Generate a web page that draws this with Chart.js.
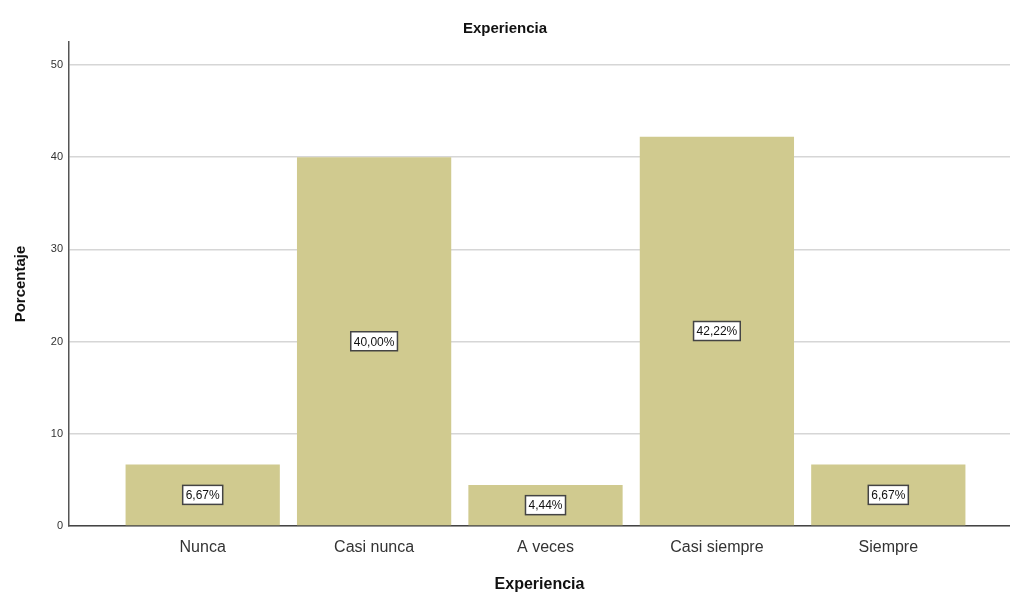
<!DOCTYPE html>
<html lang="es">
<head>
    <meta charset="UTF-8">
    <title>Experiencia</title>
    <script src="https://cdn.jsdelivr.net/npm/chart.js"></script>
    <style>
        body { margin: 0; background: #fff; }
    </style>
</head>
<body>
    <canvas id="myChart" width="1010" height="594"></canvas>

    <script>
        const categories = ['Nunca', 'Casi nunca', 'A veces', 'Casi siempre', 'Siempre'];
        const percentages = [6.67, 40.00, 4.44, 42.22, 6.67];
        const yTicks = [0, 10, 20, 30, 40, 50];

        // boxed value labels in the middle of each bar
        const boxLabels = {
            id: 'boxLabels',
            afterDatasetsDraw(chart) {
                const ctx = chart.ctx;
                const meta = chart.getDatasetMeta(0);
                ctx.save();
                ctx.font = '12px "Liberation Sans", Arial, sans-serif';
                ctx.textAlign = 'center';
                ctx.textBaseline = 'middle';
                meta.data.forEach((bar, i) => {
                    const txt = percentages[i].toFixed(2).replace('.', ',') + '%';
                    const cy = (bar.y + bar.base) / 2;
                    const w = ctx.measureText(txt).width + 6;
                    const h = 19;
                    ctx.fillStyle = '#fff';
                    ctx.fillRect(bar.x - w / 2, cy - h / 2, w, h);
                    ctx.strokeStyle = '#444';
                    ctx.lineWidth = 1.5;
                    ctx.strokeRect(bar.x - w / 2, cy - h / 2, w, h);
                    ctx.fillStyle = '#111';
                    ctx.fillText(txt, bar.x, cy + 1);
                });
                ctx.restore();
            }
        };

        new Chart(document.getElementById('myChart'), {
            type: 'bar',
            data: {
                datasets: [{
                    label: 'Porcentaje',
                    data: percentages.map((v, i) => ({ x: i + 1, y: v })),
                    backgroundColor: '#d0ca8f',
                    borderWidth: 0,
                    barPercentage: 0.9,
                    categoryPercentage: 1
                }]
            },
            options: {
                responsive: false,
                animation: false,
                plugins: {
                    legend: { display: false },
                    tooltip: { enabled: false },
                    title: {
                        display: true,
                        text: 'Experiencia',
                        color: '#111',
                        font: { family: '"Liberation Sans", Arial, sans-serif', size: 15, weight: 'bold' },
                        padding: { top: 20, bottom: 4 }
                    }
                },
                scales: {
                    x: {
                        type: 'linear',
                        offset: false,
                        min: 0.22,
                        max: 5.71,
                        afterBuildTicks: s => { s.ticks = categories.map((c, i) => ({ value: i + 1 })); },
                        afterFit: s => { s.height = 68; },
                        ticks: {
                            callback: v => categories[v - 1],
                            color: '#333',
                            font: { family: '"Liberation Sans", Arial, sans-serif', size: 16 },
                            padding: 12
                        },
                        grid: { color: 'transparent', drawTicks: false, offset: false },
                        border: { display: true, color: '#444', width: 1.5 },
                        title: {
                            display: true,
                            text: 'Experiencia',
                            color: '#111',
                            font: { family: '"Liberation Sans", Arial, sans-serif', size: 16, weight: 'bold' },
                            padding: { top: 12, bottom: 0 }
                        }
                    },
                    y: {
                        min: 0,
                        max: 52.5,
                        afterBuildTicks: s => { s.ticks = yTicks.map(v => ({ value: v })); },
                        afterFit: s => { s.width = 69; },
                        ticks: {
                            color: '#333',
                            font: { family: '"Liberation Sans", Arial, sans-serif', size: 11 },
                            padding: 6
                        },
                        grid: { color: '#d6d6d6', lineWidth: 1.5, drawTicks: false },
                        border: { display: true, color: '#555', width: 1.5 },
                        title: {
                            display: true,
                            text: 'Porcentaje',
                            color: '#111',
                            font: { family: '"Liberation Sans", Arial, sans-serif', size: 15, weight: 'bold' },
                            padding: { top: 12, bottom: 4 }
                        }
                    }
                }
            },
            plugins: [boxLabels]
        });
    </script>
</body>
</html>
